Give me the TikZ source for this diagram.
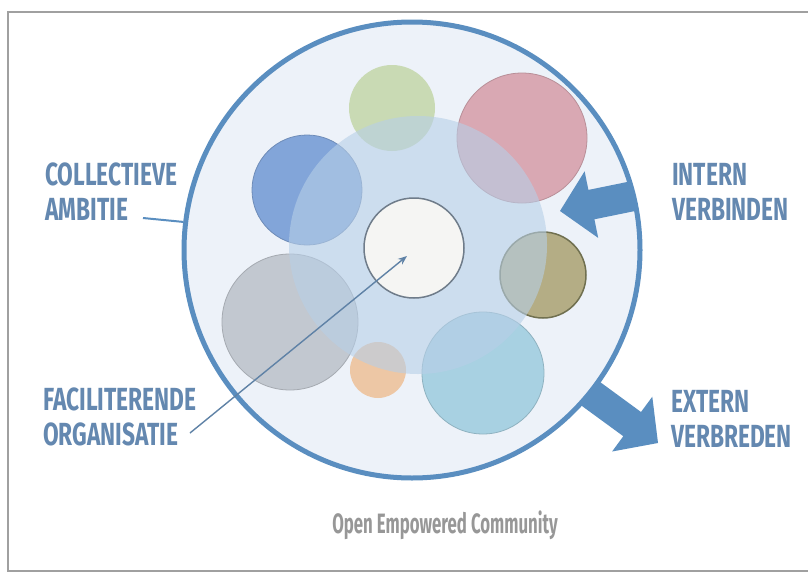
\documentclass[tikz,border=0pt]{standalone}
\usepackage{fontspec}
\newfontfamily\labfont[FakeStretch=0.71]{Fira Sans}
\newfontfamily\capfont[FakeStretch=0.6]{Fira Sans}
\definecolor{framecol}{HTML}{A0A0A0}
\definecolor{bigfill}{HTML}{EDF2F9}
\definecolor{bigline}{HTML}{5A8EC0}
\definecolor{regioncol}{HTML}{B7CFE7}
\definecolor{greencol}{HTML}{C9DAB4}
\definecolor{pinkcol}{HTML}{D9A8B3}
\definecolor{bluecol}{HTML}{82A5D9}
\definecolor{olivecol}{HTML}{B4AD85}
\definecolor{olivebd}{HTML}{707050}
\definecolor{graycol}{HTML}{C2C8D0}
\definecolor{orangecol}{HTML}{EDC7A5}
\definecolor{lbluecol}{HTML}{A8D1E2}
\definecolor{whitecol}{HTML}{F5F5F3}
\definecolor{whitebd}{HTML}{6F7C8A}
\definecolor{labcol}{HTML}{6488B0}
\definecolor{ptrcol}{HTML}{5F82A6}
\definecolor{capcol}{HTML}{979797}
\usetikzlibrary{arrows.meta}
\begin{document}
\begin{tikzpicture}[x=1pt,y=-1pt,
  blob/.style={circle, inner sep=0pt, minimum size=#1},
  lab/.style={anchor=north west, inner sep=0pt, text=labcol, align=left,
    font=\labfont\bfseries\fontsize{32}{35}\selectfont},
  fat/.style={fill=bigline},
  ptr/.style={draw=ptrcol, line width=1.4pt, -{Stealth[length=9pt,width=7pt]}},
]
\useasboundingbox (0,0) rectangle (808,573);
\fill[white] (0,0) rectangle (808,573);
\draw[framecol, line width=2pt] (8,12) rectangle (814,571);

% extern arrow (outward)
\fill[fat] (566.8,394.9) -- (623.3,436.2) -- (612.1,451.5) -- (658,443)
  -- (652.3,396.7) -- (641.0,412.0) -- (584.6,370.7) -- cycle;

% big circle fill
\node[blob=456pt, fill=bigfill] (big) at (412,250) {};

% member circles
\node[blob=86pt,  fill=greencol] (green) at (392,108) {};
\node[blob=130pt, fill=pinkcol, draw=pinkcol!85!black, line width=0.8pt] (pink) at (522,138) {};
\node[blob=110pt, fill=bluecol, draw=bluecol!85!black, line width=0.8pt] (blue) at (307,190) {};
\node[blob=86pt,  fill=olivecol, draw=olivebd, line width=1.5pt] (olive) at (543,275) {};
\node[blob=136pt, fill=graycol, draw=graycol!85!black, line width=0.8pt] (gray) at (290,322) {};
\node[blob=56pt,  fill=orangecol] (orange) at (378,370) {};
\node[blob=122pt, fill=lbluecol, draw=lbluecol!85!black, line width=0.8pt] (lblue) at (483,373) {};

% shared region
\node[blob=258pt, fill=regioncol, fill opacity=0.6] (region) at (418,245) {};

% facilitating organisation
\node[blob=100pt, fill=whitecol, draw=whitebd, line width=1.5pt] (org) at (414,248) {};

% intern arrow (inward), clipped to the circle
\begin{scope}
\clip (412,250) circle (226pt);
\fill[fat] (653.2,207.3) -- (594.4,219.3) -- (598.2,237.9) -- (560,211)
  -- (584.6,171.3) -- (588.4,189.9) -- (647.2,177.9) -- cycle;
\end{scope}

% outer ring
\node[blob=456pt, draw=bigline, line width=5pt] (ring) at (412,250) {};

% labels
\node[lab] (coll) at (45,163) {COLLECTIEVE\\AMBITIE};
\node[lab] (intern) at (672,163) {INTERN\\VERBINDEN};
\node[lab] (fac) at (43,388) {FACILITERENDE\\ORGANISATIE};
\node[lab] (extern) at (671,390) {EXTERN\\VERBREDEN};
\node[anchor=north, inner sep=0pt, text=capcol,
  font=\capfont\bfseries\fontsize{28}{32}\selectfont] (caption) at (445,511) {Open Empowered Community};

% connectors
\coordinate (ambend) at (143,218);
\draw[bigline, line width=2pt] (ambend) -- (ring.173);
\coordinate (facend) at (190,433);
\coordinate (orgpt) at (407,256);
\draw[ptr] (facend) -- (orgpt);
\end{tikzpicture}
\end{document}
